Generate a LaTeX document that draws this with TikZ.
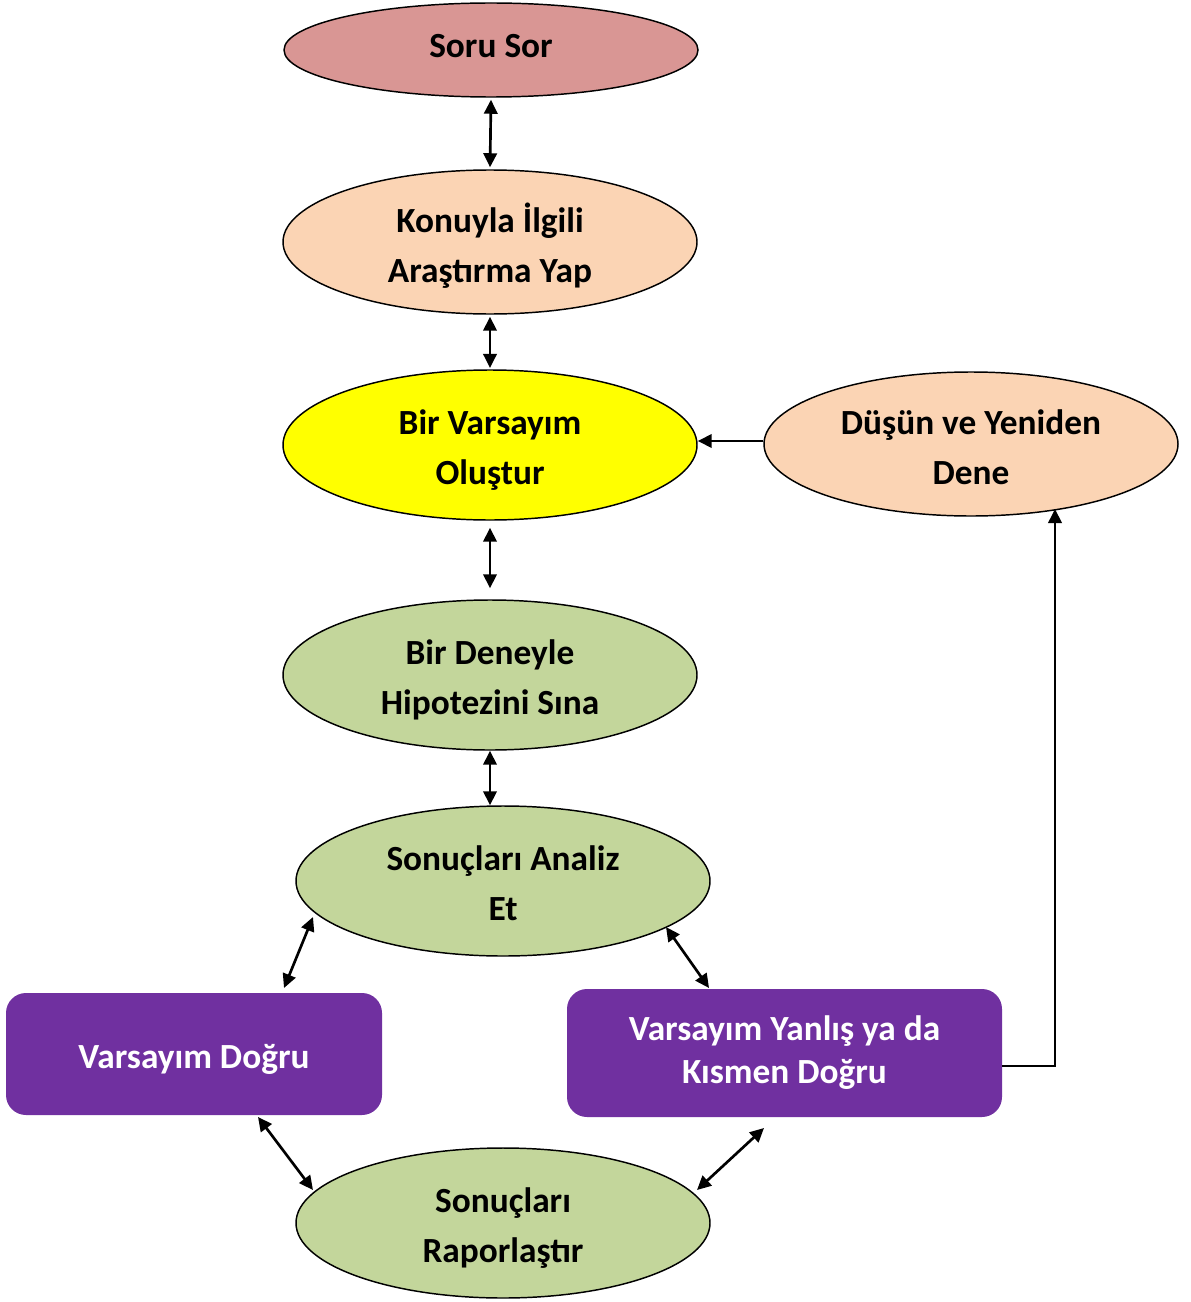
\documentclass[tikz,border=0pt]{standalone}
\usepackage{fontspec}
\setmainfont{Carlito}
\usetikzlibrary{shapes.geometric,arrows.meta}
\definecolor{pinkf}{HTML}{D99694}
\definecolor{peach}{HTML}{FBD4B4}
\definecolor{yel}{HTML}{FFFF00}
\definecolor{grn}{HTML}{C3D69B}
\definecolor{purp}{HTML}{7030A0}
\newcommand{\lowtxt}[2][-3pt]{\raisebox{#1}[\height][\depth]{\begin{tabular}{@{}c@{}}#2\end{tabular}}}
\begin{document}
\begin{tikzpicture}[x=0.75pt,y=-0.75pt,
  ell/.style={ellipse, draw=black, line width=1.1pt, minimum width=310.5pt, minimum height=112.5pt, inner sep=0pt, font=\bfseries\fontsize{26.5}{37.5}\selectfont},
  box/.style={rectangle, rounded corners=15pt, fill=purp, text=white, inner sep=0pt, font=\bfseries\fontsize{26.5}{32}\selectfont},
  con/.style={line width=2pt, {Triangle[length=10.5pt,width=10pt]}-{Triangle[length=10.5pt,width=10pt]}},
  one/.style={line width=2pt, -{Triangle[length=10.5pt,width=10pt]}}]
\useasboundingbox (0,0) rectangle (1190,1302);
\node[ell, fill=pinkf, minimum height=70.5pt] (soru) at (491,50) {\lowtxt[1.8pt]{Soru Sor}};
\node[ell, fill=peach, minimum height=108pt] (konu) at (490,242) {\lowtxt[-4.2pt]{Konuyla \.Ilgili\\Araştırma Yap}};
\node[ell, fill=yel] (bir) at (490,445) {\lowtxt{Bir Varsayım\\Oluştur}};
\node[ell, fill=peach, minimum height=108pt] (dusun) at (971,444) {\lowtxt[-4.2pt]{Düşün ve Yeniden\\Dene}};
\node[ell, fill=grn] (deney) at (490,675) {\lowtxt{Bir Deneyle\\Hipotezini Sına}};
\node[ell, fill=grn] (analiz) at (503,881) {\lowtxt{Sonuçları Analiz\\Et}};
\node[ell, fill=grn] (rapor) at (503,1223) {\lowtxt{Sonuçları\\Raporlaştır}};
\node[box, minimum width=282pt, minimum height=91.5pt] (vd) at (194,1054) {\lowtxt[-4.2pt]{Varsayım Doğru}};
\node[box, minimum width=326.25pt, minimum height=96pt] (vy) at (784.5,1053) {\lowtxt[-0.5pt]{Varsayım Yanlış ya da\\Kısmen Doğru}};
\draw[con, shorten <=1.5pt, shorten >=1.5pt] (soru.south) -- (konu.north);
\draw[con, shorten <=1.5pt, shorten >=1pt] (konu.south) -- (bir.north);
\draw[con, shorten <=5.25pt, shorten >=8.25pt] (bir.south) -- (deney.north);
\draw[con] (deney.south) -- (deney.south |- analiz.north);
\coordinate (a1) at (313,917);
\coordinate (a2) at (284,988);
\coordinate (b1) at (666,927);
\coordinate (b2) at (709,988);
\coordinate (c1) at (258,1117);
\coordinate (c2) at (313,1190);
\coordinate (d1) at (764,1128);
\coordinate (d2) at (697,1190);
\draw[con] (a1) -- (a2);
\draw[con] (b1) -- (b2);
\draw[con] (c1) -- (c2);
\draw[con] (d1) -- (d2);
\draw[one] (dusun.west |- 0,441) -- (bir.east |- 0,441);
\coordinate (vyout) at (1002,1066);
\coordinate (dusin) at (1055,509);
\draw[one] (vyout) -| (dusin);
\end{tikzpicture}
\end{document}
